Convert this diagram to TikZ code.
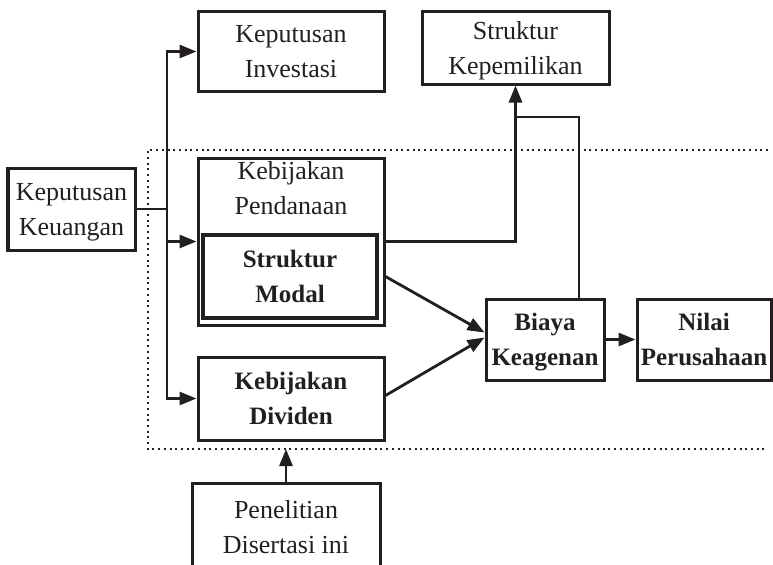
\documentclass[tikz,border=0pt]{standalone}
\usepackage{fontspec}
\setmainfont{Liberation Serif}
\usetikzlibrary{arrows.meta}
\definecolor{ink}{HTML}{231F20}
\begin{document}
\begin{tikzpicture}[x=0.5pt,y=-0.5pt, color=ink,
  box/.style={draw=ink, text=ink, line width=1.5pt, inner sep=0pt, align=center,
    text depth=0pt, font=\fontsize{13}{17.5}\selectfont},
  boldbox/.style={box, font=\fontsize{12.5}{17.5}\selectfont\bfseries},
  conn/.style={draw=ink, line width=1.4pt},
  arr/.style={conn, -{Triangle[length=8.5pt,width=6.5pt]}},
  region/.style={draw=ink, line width=1.3pt, dash pattern=on 1pt off 1.85pt}]

\useasboundingbox (0,0) rectangle (773,564);
\clip (0,0) rectangle (773,564);

% boxes
\node[box, minimum width=93pt, minimum height=40pt] (inv) at (291,51.5) {Keputusan\\Investasi};
\node[box, minimum width=93.5pt, minimum height=36.5pt] (kep) at (515.5,47.5) {Struktur\\Kepemilikan};
\node[box, minimum width=63.5pt, minimum height=41pt] (keu) at (71.5,209) {Keputusan\\Keuangan};
\node[box, minimum width=93pt, minimum height=83.5pt] (pend) at (291,241.5) {};
\node[box, draw=none] (pendtext) at (291,188) {Kebijakan\\Pendanaan};
\node[boldbox, line width=1.8pt, minimum width=87pt, minimum height=41.5pt] (modal) at (290,276.5) {Struktur\\Modal};
\node[boldbox, minimum width=93pt, minimum height=41.5pt] (div) at (291,398.5) {Kebijakan\\Dividen};
\node[boldbox, minimum width=59pt, minimum height=40.5pt] (biaya) at (545,339.5) {Biaya\\Keagenan};
\node[boldbox, minimum width=67pt, minimum height=40.5pt] (nilai) at (704,339.5) {Nilai\\Perusahaan};
\node[box, minimum width=94pt, minimum height=43.5pt] (pen) at (286,526.5) {Penelitian\\Disertasi ini};

% dotted region around the financing and dividend policies
\coordinate (rtl) at (148,150);
\coordinate (rbl) at (148,449);
\draw[region] (768,150) -- (rtl) -- (rbl) -- (768,449);

% financial decision branches
\coordinate (split) at (167,209);
\draw[conn] (keu.east) -- (split);
\draw[arr] (split) |- (inv.west);
\draw[arr] (split) |- (pend.west);
\draw[arr] (split) |- (div.west);

% capital structure to ownership structure
\draw[arr] (pend.east) -| (kep.south);
\coordinate (bup) at (579,117);
\draw[conn] (bup |- biaya.north) -- (bup) -- (bup -| kep.south);

% into agency cost and firm value
\draw[arr] (modal.east -| pend.east) -- ([yshift=3.5pt]biaya.west);
\draw[arr] ([yshift=1.5pt]div.east) -- ([yshift=1pt]biaya.west);
\draw[arr] (biaya.east) -- (nilai.west);

% this dissertation's research
\draw[arr] (pen.north) -- (pen.north |- rbl);
\end{tikzpicture}
\end{document}
